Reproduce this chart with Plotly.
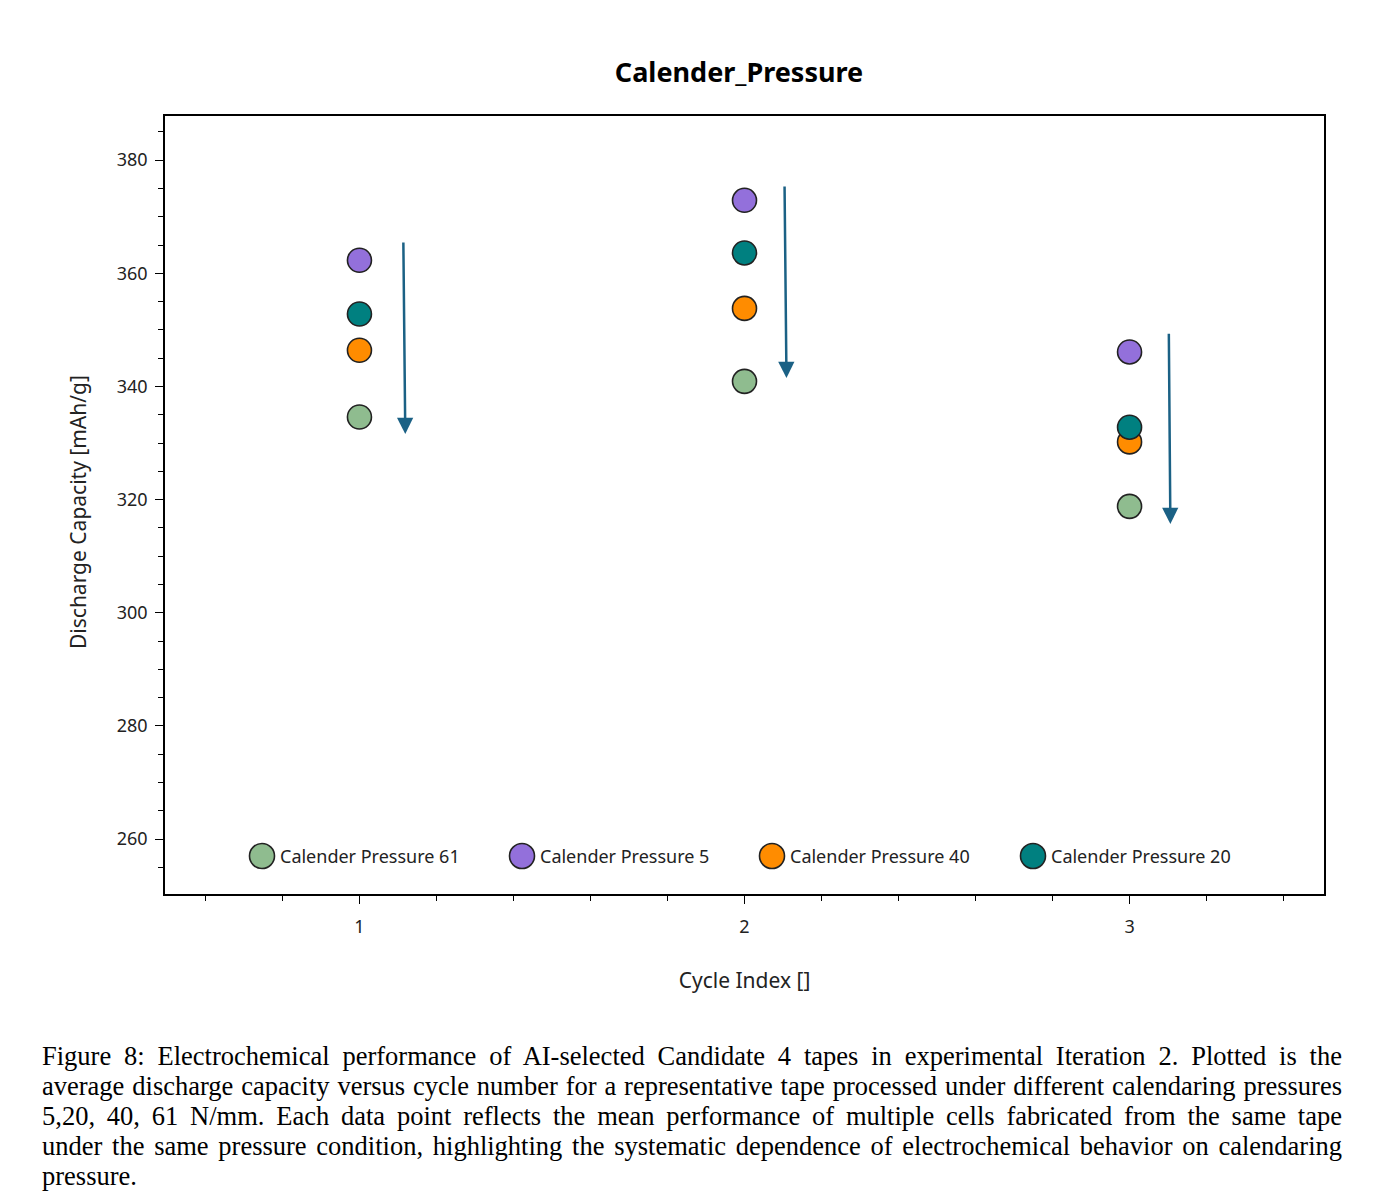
import json
import plotly.graph_objects as go

cycles = [1, 2, 3]
series_names = ["Calender Pressure 61", "Calender Pressure 5", "Calender Pressure 40", "Calender Pressure 20"]
series_values = {
    "Calender Pressure 61": [334.6, 340.9, 318.8],
    "Calender Pressure 5": [362.3, 372.9, 346.1],
    "Calender Pressure 40": [346.4, 353.8, 330.2],
    "Calender Pressure 20": [352.8, 363.6, 332.8],
}
series_colors = {
    "Calender Pressure 61": "#8FBC8F",
    "Calender Pressure 5": "#9370DB",
    "Calender Pressure 40": "#FF8C00",
    "Calender Pressure 20": "#008080",
}
# arrows: x at top, x at bottom, y top, y bottom
arrow_x_top = [1.114, 2.104, 3.102]
arrow_x_bot = [1.119, 2.109, 3.106]
arrow_y_top = [365.7, 375.6, 349.6]
arrow_y_bot = [331.6, 341.5, 315.7]

caption_lines = [
    "Figure 8: Electrochemical performance of AI-selected Candidate 4 tapes in experimental Iteration 2. Plotted is the",
    "average discharge capacity versus cycle number for a representative tape processed under different calendaring pressures",
    "5,20, 40, 61 N/mm. Each data point reflects the mean performance of multiple cells fabricated from the same tape",
    "under the same pressure condition, highlighting the systematic dependence of electrochemical behavior on calendaring",
    "pressure.",
]

FONT = "Noto Sans"
W, H = 1388, 1199
L, R, T, B = 165, 64, 116, 305
pw, ph = W - L - R, H - T - B

fig = go.Figure()
for name in series_names:
    fig.add_trace(go.Scatter(
        x=cycles, y=series_values[name], mode="markers", name=name,
        marker=dict(size=24, color=series_colors[name], line=dict(color="#222222", width=1.6)),
        showlegend=False,
    ))

for xt, xb, yt, yb in zip(arrow_x_top, arrow_x_bot, arrow_y_top, arrow_y_bot):
    fig.add_annotation(x=xb, y=yb, ax=xt, ay=yt, xref="x", yref="y", axref="x", ayref="y",
                       showarrow=True, arrowhead=2, arrowsize=1.3, arrowwidth=2.5,
                       arrowcolor="#1B6185", text="")

# custom legend (large markers like the reference)
legend_px = [262, 522, 772, 1033]
legend_py = 856
for name, px in zip(series_names, legend_px):
    xp = (px - L) / pw
    yp = (H - B - legend_py) / ph
    fig.add_shape(type="circle", xref="paper", yref="paper", xsizemode="pixel", ysizemode="pixel",
                  xanchor=xp, yanchor=yp, x0=-12.5, x1=12.5, y0=-12.5, y1=12.5,
                  fillcolor=series_colors[name], line=dict(color="#222222", width=1.6))
    fig.add_annotation(x=(px + 16 - L) / pw, y=yp, xref="paper", yref="paper", text=name,
                       showarrow=False, xanchor="left", yanchor="middle",
                       font=dict(family=FONT, size=18, color="#222222"))

# y axis title (placed as annotation to match its slightly lowered position)
fig.add_annotation(x=(78 - L) / pw, y=(H - B - 512) / ph, xref="paper", yref="paper",
                   text="Discharge Capacity [mAh/g]", textangle=-90, showarrow=False,
                   xanchor="center", yanchor="middle",
                   font=dict(family=FONT, size=21, color="#222222"))

CAP_LEFT = 42
CAP_WIDTH = 1300
for i, line in enumerate(caption_lines):
    fig.add_annotation(x=(CAP_LEFT - 2 - L) / pw, y=(H - B - (1056 + 30 * i)) / ph, xref="paper", yref="paper",
                       text=line, showarrow=False, xanchor="left", yanchor="middle", align="left",
                       font=dict(family="Liberation Serif", size=26.5, color="black"))

axis_common = dict(showline=True, linecolor="black", linewidth=1.5, mirror=True,
                   ticks="outside", ticklen=8, tickwidth=1.3, tickcolor="black",
                   showgrid=False, zeroline=False,
                   tickfont=dict(family=FONT, size=18, color="#222222"))
fig.update_xaxes(range=[0.495, 3.505], dtick=1, tick0=0, ticklabelstandoff=8,
                 minor=dict(ticks="outside", ticklen=5, dtick=0.2, tick0=0, tickcolor="black", tickwidth=1.3),
                 title=dict(text="Cycle Index []", font=dict(family=FONT, size=21, color="#222222"), standoff=36),
                 **axis_common)
fig.update_yaxes(range=[250.3, 387.8], dtick=20, tick0=0, ticklabelstandoff=4,
                 minor=dict(ticks="outside", ticklen=5, dtick=5, tick0=0, tickcolor="black", tickwidth=1.3),
                 **axis_common)

fig.update_layout(
    width=W, height=H, margin=dict(l=L, r=R, t=T, b=B),
    paper_bgcolor="white", plot_bgcolor="white",
    title=dict(text="<b>Calender_Pressure</b>", x=739 / W, xanchor="center", y=1 - 73 / H, yanchor="middle",
               font=dict(family=FONT, size=27, color="black")),
    showlegend=False,
)

justify_lines = json.dumps(caption_lines[:-1])
post_script = """
var gd = document.getElementById('{plot_id}');
var JUST = %s;
var texts = gd.querySelectorAll('text.annotation-text');
texts.forEach(function(t) {
  var s = t.textContent;
  if (JUST.indexOf(s) >= 0) {
    var n = (s.match(/ /g) || []).length;
    t.style.wordSpacing = '0px';
    var len = t.getComputedTextLength();
    if (n > 0 && len < %d) { t.style.wordSpacing = ((%d - len) / n) + 'px'; }
  }
});
""" % (justify_lines, CAP_WIDTH, CAP_WIDTH)

fig.write_html("out.html", post_script=post_script)
